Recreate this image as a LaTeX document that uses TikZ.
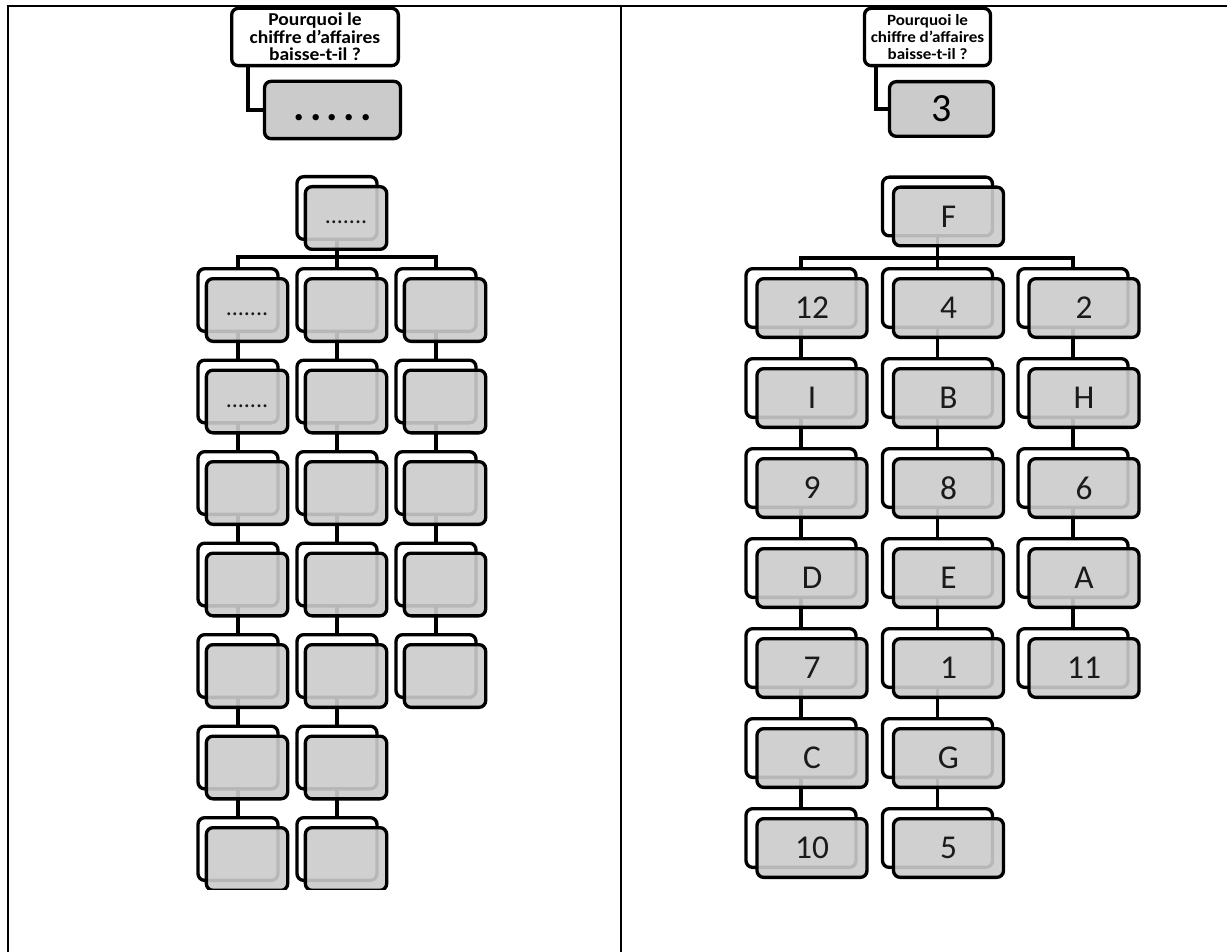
\documentclass[tikz,border=0pt]{standalone}
\usepackage{fontspec}
\setmainfont{Carlito}
\newfontfamily\wtwidefont[FakeStretch=1.08]{Carlito}
\usetikzlibrary{calc}
\definecolor{wtink}{HTML}{000000}
\definecolor{wtboxfill}{HTML}{CBCBCB}
\definecolor{wttext}{HTML}{1A1A1A}
\pgfdeclarelayer{background}
\pgfsetlayers{background,main}
\newcommand{\wtdots}{.......}
\newcommand{\wtbigdots}{.\hspace{4pt}.\hspace{4pt}.\hspace{4pt}.\hspace{4pt}.}

\begin{document}
\begin{tikzpicture}[x=0.75pt,y=-0.75pt,
  font=\fontsize{25}{30}\selectfont,text=wttext,
  wtline/.style={draw=wtink,line width=2.5pt},
  wtframe/.style={draw=wtink,line width=2pt},
  wtquestion/.style={draw=wtink,line width=2.5pt,fill=white,rounded corners=5pt,
    align=center,inner sep=0pt,minimum height=43pt,text=black},
  wtanswer/.style={draw=wtink,line width=2.5pt,fill=wtboxfill,rounded corners=5pt,
    inner sep=0pt,minimum height=43pt,text=black},
  wtback/.style={draw=wtink,line width=2.5pt,fill=white,rounded corners=5pt,inner sep=0pt},
  wtfront/.style={draw=wtink,line width=2.5pt,fill=wtboxfill,fill opacity=0.9,
    text opacity=1,rounded corners=5pt,inner sep=0pt},
  wtsmall/.style={font=\fontsize{18}{22}\selectfont\strut}]
  \path[use as bounding box] (0,0) rectangle (1227,952);
  % table rules, cut off on the right and at the bottom
  \draw[wtframe] (8,952) -- (8,6) -- (1227,6);
  \draw[wtframe] (621,6) -- (621,952);

  % left panel: empty template
  \node[wtquestion,minimum width=125pt,font=\wtwidefont\bfseries\fontsize{13.6}{13.2}\selectfont] (qL) at (315,37)
    {Pourquoi le\\chiffre d’affaires\\baisse-t-il ?};
  \node[wtanswer,minimum width=102pt,font=\bfseries\fontsize{32}{38}\selectfont\strut] (aL) at (332.5,110) {\wtbigdots};

  \begin{scope}
    \clip (0,0) rectangle (621,889);
    \tikzset{wtback/.append style={minimum width=60pt,minimum height=47pt},
      wtfront/.append style={minimum width=61pt,minimum height=47pt}}
    \node[wtback] (Lb0) at (337,208) {};
    \node[wtfront,wtsmall] (Lf0) at ($(Lb0)+(9,10)$) {\wtdots};
    \coordinate (Lbar) at (337,257);
    \foreach \lab [count=\r] in {\wtdots,\wtdots,{},{},{},{},{}}
      {\node[wtback] (Lb1-\r) at (238,{300+91.5*(\r-1)}) {};
       \node[wtfront,wtsmall] (Lf1-\r) at ($(Lb1-\r)+(9,10)$) {\lab};}
    \foreach \r in {1,...,7}
      {\node[wtback] (Lb2-\r) at (337,{300+91.5*(\r-1)}) {};
       \node[wtfront] (Lf2-\r) at ($(Lb2-\r)+(9,10)$) {};}
    \foreach \r in {1,...,5}
      {\node[wtback] (Lb3-\r) at (436,{300+91.5*(\r-1)}) {};
       \node[wtfront] (Lf3-\r) at ($(Lb3-\r)+(9,10)$) {};}
  \end{scope}

  % right panel: filled in
  \node[wtquestion,minimum width=94.5pt,font=\wtwidefont\bfseries\fontsize{11.8}{12.5}\selectfont] (qR) at (927.5,37)
    {Pourquoi le\\chiffre d’affaires\\baisse-t-il ?};
  \node[wtanswer,minimum width=78pt,minimum height=41pt,font=\fontsize{30}{36}\selectfont] (aR) at (941.5,109) {3};

  \begin{scope}
    \clip (621,0) rectangle (1227,880);
    \tikzset{wtback/.append style={minimum width=82.5pt,minimum height=44pt},
      wtfront/.append style={minimum width=82.5pt,minimum height=44pt}}
    \node[wtback] (Rb0) at (937.5,206.5) {};
    \node[wtfront] (Rf0) at ($(Rb0)+(11,10)$) {F};
    \coordinate (Rbar) at (937,258);
    \foreach \lab [count=\r] in {12,I,9,D,7,C,10}
      {\node[wtback] (Rb1-\r) at (801,{298+90*(\r-1)}) {};
       \node[wtfront] (Rf1-\r) at ($(Rb1-\r)+(11,10)$) {\lab};}
    \foreach \lab [count=\r] in {4,B,8,E,1,G,5}
      {\node[wtback] (Rb2-\r) at (937.5,{298+90*(\r-1)}) {};
       \node[wtfront] (Rf2-\r) at ($(Rb2-\r)+(11,10)$) {\lab};}
    \foreach \lab [count=\r] in {2,H,6,A,11}
      {\node[wtback] (Rb3-\r) at (1073,{298+90*(\r-1)}) {};
       \node[wtfront] (Rf3-\r) at ($(Rb3-\r)+(11,10)$) {\lab};}
  \end{scope}

  % connectors sit under the boxes
  \begin{pgfonlayer}{background}
    \draw[wtline] ($(qL.south west)+(18,0)$) |- (aL.west);
    \draw[wtline] ($(qR.south west)+(13,0)$) |- (aR.west);
    \foreach \side in {L,R}
      {\draw[wtline] (\side b0.center) -- (\side b2-1.center);
       \draw[wtline] (\side b1-1.center) |- (\side bar) -| (\side b3-1.center);
       \foreach \c/\n in {1/6,2/6,3/4}
         {\foreach \r in {1,...,\n}
           {\pgfmathtruncatemacro{\nxt}{\r+1}
            \draw[wtline] (\side b\c-\r.center) -- (\side b\c-\nxt.center);}}}
  \end{pgfonlayer}
\end{tikzpicture}
\end{document}
